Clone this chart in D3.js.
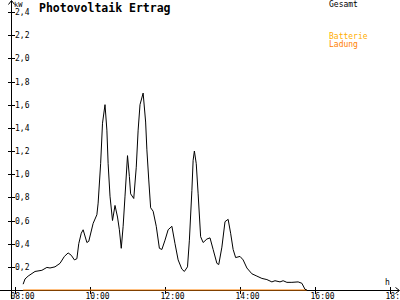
<!DOCTYPE html>
<html>
<head>
<meta charset="utf-8">
<script src="https://cdn.jsdelivr.net/npm/d3@7"></script>
<style>
  body { margin: 0; background: #fff; }
  svg text { font-family: "DejaVu Sans Mono", monospace; }
</style>
</head>
<body>
<div id="chart"></div>
<script>
// Gesamt (kW)
const times = ["08:13","08:16","08:21","08:32","08:43","08:51","08:56","09:04","09:12","09:19",
  "09:25","09:30","09:35","09:39","09:42","09:46","09:49","09:55","09:58","10:05",
  "10:11","10:13","10:17","10:20","10:24","10:27","10:29","10:32","10:36","10:40",
  "10:44","10:47","10:50","10:53","10:56","11:00","11:03","11:05","11:10","11:14",
  "11:17","11:20","11:25","11:29","11:31","11:34","11:37","11:41","11:46","11:51",
  "11:55","12:00","12:05","12:11","12:16","12:21","12:27","12:31","12:36","12:39",
  "12:43","12:45","12:47","12:50","12:53","12:57","13:01","13:07","13:12","13:17",
  "13:23","13:26","13:31","13:36","13:41","13:45","13:49","13:53","14:00","14:05",
  "14:11","14:19","14:27","14:35","14:43","14:51","14:56","15:04","15:09","15:15",
  "15:23","15:33","15:39","15:44","15:47"]
const gesamt = [0.05,0.095,0.12,0.16,0.17,0.195,0.19,0.20,0.23,0.29,
  0.32,0.30,0.26,0.27,0.40,0.49,0.52,0.41,0.42,0.575,
  0.65,0.75,1.09,1.44,1.60,1.38,1.09,0.81,0.60,0.73,
  0.63,0.52,0.36,0.55,0.81,1.16,0.98,0.83,0.79,1.06,
  1.38,1.60,1.70,1.45,1.21,0.95,0.71,0.68,0.55,0.36,
  0.35,0.43,0.52,0.55,0.40,0.26,0.18,0.16,0.20,0.43,
  0.86,1.12,1.20,1.09,0.83,0.46,0.41,0.44,0.45,0.35,
  0.23,0.22,0.37,0.59,0.61,0.49,0.35,0.28,0.29,0.26,
  0.19,0.14,0.12,0.10,0.09,0.07,0.08,0.07,0.08,0.066,
  0.066,0.07,0.058,0.006,0]
// Ladung: flat zero over the same span
const ladungTimes = ["08:13","15:47"]
const ladung = [0, 0]

const yTicks = [0.2,0.4,0.6,0.8,1.0,1.2,1.4,1.6,1.8,2.0,2.2,2.4]
const xTicks = [8,10,12,14,16,18]

const toHours = s => { const [h,m] = s.split(":").map(Number); return h + m/60 }

const width = 400, height = 300
const x = d3.scaleLinear().domain([8,18]).range([15,390])
const y = d3.scaleLinear().domain([0,2.4]).range([290,12])

const svg = d3.select("#chart").append("svg")
    .attr("width", width).attr("height", height)

// y axis
svg.append("line").attr("x1",11.5).attr("x2",11.5).attr("y1",1).attr("y2",299)
    .attr("stroke","#000")
svg.append("path").attr("d","M8.5,4.5L11.5,0.5L14.5,4.5").attr("fill","none").attr("stroke","#000")
svg.append("text").attr("x",14).attr("y",7).attr("font-size",7).text("kW")

const yt = svg.append("g").selectAll("g").data(yTicks).join("g")
    .attr("transform", d => `translate(0,${Math.round(y(d))+0.5})`)
yt.append("line").attr("x1",8).attr("x2",15).attr("stroke","#000")
yt.append("text").attr("x",15).attr("dy","0.35em").attr("font-size",8)
    .text(d => d3.format(".1f")(d).replace(".", ","))

// x axis
svg.append("line").attr("x1",0).attr("x2",399).attr("y1",290.5).attr("y2",290.5)
    .attr("stroke","#000")
svg.append("path").attr("d","M395.5,287.5L399.5,290.5L395.5,293.5").attr("fill","none").attr("stroke","#000")
svg.append("text").attr("x",385).attr("y",285).attr("font-size",8).text("h")

const xt = svg.append("g").selectAll("g").data(xTicks).join("g")
    .attr("transform", d => `translate(${Math.round(x(d))+0.5},0)`)
xt.append("line").attr("y1",287).attr("y2",294).attr("stroke","#000")
xt.append("text").attr("x",-5).attr("y",299).attr("font-size",8)
    .text(d => d3.format("02")(d) + ":00")

// series
const line = d3.line().x(d => x(d[0])).y(d => y(d[1]))
svg.append("path")
    .datum(ladungTimes.map((t,i) => [toHours(t), ladung[i]]))
    .attr("fill","none").attr("stroke","#ff8000").attr("stroke-width",1.2)
    .attr("d", line)
svg.append("path")
    .datum(times.map((t,i) => [toHours(t), gesamt[i]]))
    .attr("fill","none").attr("stroke","#000").attr("stroke-width",1)
    .attr("stroke-linejoin","round")
    .attr("d", line)

// title and legend
svg.append("text").attr("x",39).attr("y",12).attr("font-size",11.5)
    .attr("font-weight","bold").text("Photovoltaik Ertrag")
svg.append("text").attr("x",329).attr("y",7).attr("font-size",8).attr("fill","#000").text("Gesamt")
svg.append("text").attr("x",329).attr("y",39).attr("font-size",8).attr("fill","#ffae00").text("Batterie")
svg.append("text").attr("x",329).attr("y",47).attr("font-size",8).attr("fill","#ff8000").text("Ladung")
</script>
</body>
</html>
